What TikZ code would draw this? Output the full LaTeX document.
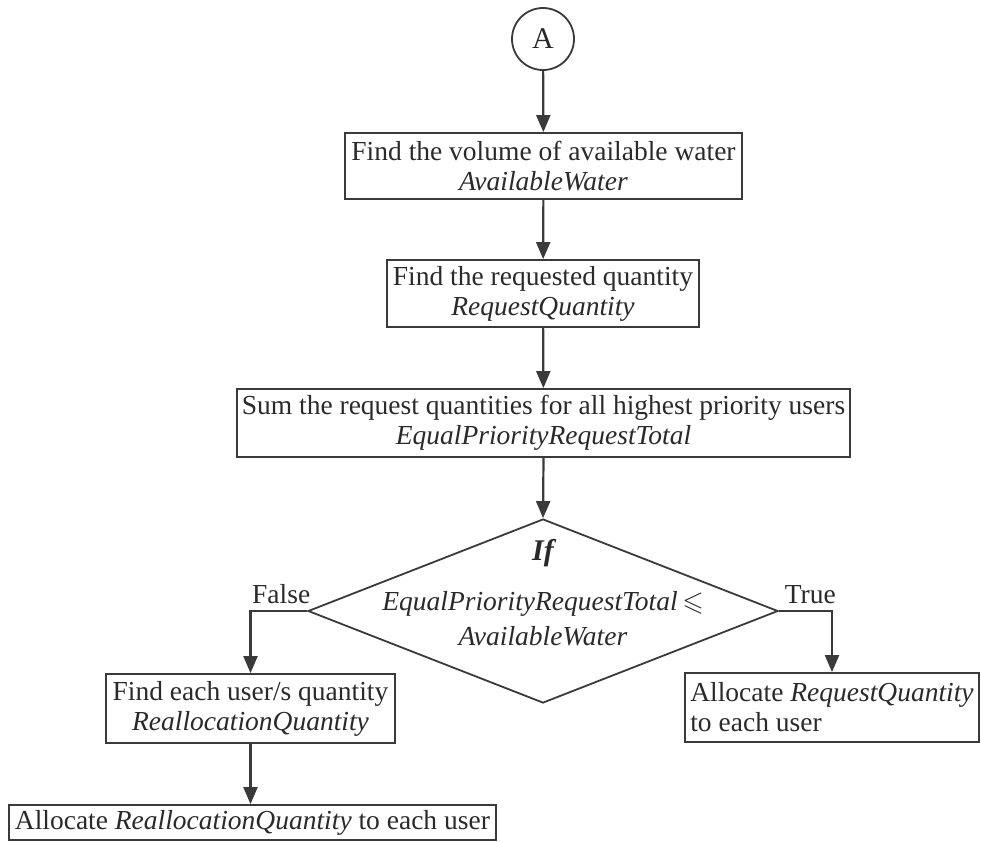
\documentclass[tikz,border=0pt]{standalone}
\usepackage{amssymb}
\usepackage{fontspec}
\setmainfont{Liberation Serif}
\usetikzlibrary{shapes.geometric,arrows.meta}

\definecolor{edge}{HTML}{3A3A3A}
\definecolor{ink}{HTML}{2A2A2A}
\newcommand{\flowsz}{\fontsize{27.5pt}{30pt}\selectfont}

\begin{document}
\begin{tikzpicture}[x=1pt,y=-1pt,
  every node/.style={font=\flowsz, text=ink},
  procbox/.style={draw=edge, line width=1.8pt, inner xsep=0pt, inner ysep=0pt, align=center},
  flow/.style={draw=edge, line width=2.2pt, -{Triangle[length=17pt,width=14pt]}},
  branch/.style={inner sep=0pt}
]
\useasboundingbox (0,0) rectangle (981,841);

% connector and process steps
\node[draw=edge, line width=1.8pt, circle, minimum size=62pt, inner sep=0pt,
      font=\fontsize{30pt}{32pt}\selectfont] (start) at (543,39) {A};

\node[procbox, minimum width=397pt, minimum height=66pt] (water) at (543.5,166)
  {Find the volume of available water\\\textit{AvailableWater}};

\node[procbox, minimum width=312pt, minimum height=67pt] (request) at (543,293.5)
  {Find the requested quantity\\\textit{RequestQuantity}};

\node[procbox, minimum width=613pt, minimum height=68pt] (total) at (543.5,423)
  {Sum the request quantities for all highest priority users\\\textit{EqualPriorityRequestTotal}};

% decision
\node[diamond, draw=edge, line width=1.8pt, minimum width=470pt, minimum height=184pt,
      inner sep=0pt] (test) at (543,611) {};
\node[branch, font=\fontsize{30pt}{32pt}\selectfont\bfseries\itshape] (ifword) at (543,553) {If};
\node[branch] (condA) at (543,604) {\textit{EqualPriorityRequestTotal}\,$\leqslant$};
\node[branch] (condB) at (543,636) {\textit{AvailableWater}};

% outcomes
\node[procbox, minimum width=289pt, minimum height=69pt] (realloc) at (250.5,708.5)
  {Find each user/s quantity\\\textit{ReallocationQuantity}};

\node[procbox, align=left, minimum width=294pt, minimum height=69pt] (grant) at (832,707.5)
  {Allocate \textit{RequestQuantity}\\to each user};

\node[procbox, inner xsep=6pt, minimum height=35pt, anchor=west] (share) at (8,822.5)
  {Allocate \textit{ReallocationQuantity} to each user};

% flow lines
\draw[flow] (start) -- (water);
\draw[flow] (water) -- (request);
\draw[flow] (request) -- (total);
\draw[flow] (total.south) -- (test.north);
\draw[flow] (test.west) -| (realloc.north);
\draw[flow] (test.east) -| (grant.north);
\draw[flow] (realloc.south) -- (realloc.south |- share.north);

% branch labels
\node[branch, anchor=base west] (nolbl) at (252,603) {False};
\node[branch, anchor=base east] (yeslbl) at (836,603) {True};
\end{tikzpicture}
\end{document}
